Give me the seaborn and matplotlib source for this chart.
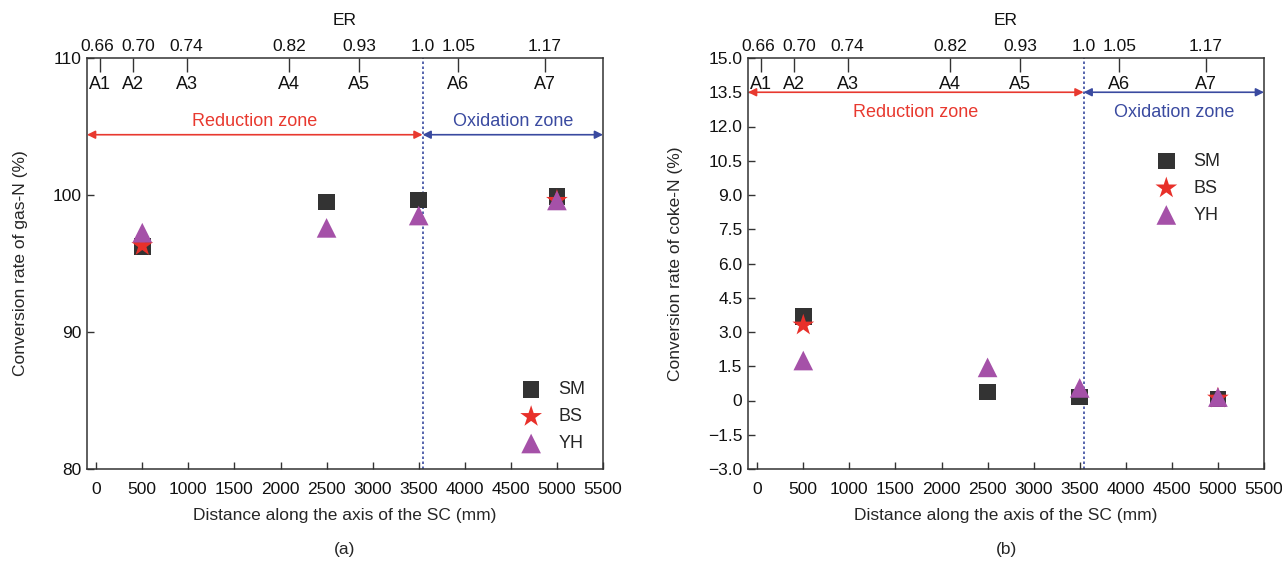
import numpy as np
import matplotlib
matplotlib.use("Agg")
import matplotlib.pyplot as plt
import matplotlib.transforms as mtransforms
import seaborn as sns
from matplotlib.ticker import FuncFormatter

sns.set_theme(style="ticks")
plt.rcParams['font.family'] = ['Liberation Sans', 'DejaVu Sans']

# ---------------- data ----------------
dist_all = [500, 2500, 3500, 5000]
dist_bs = [500, 5000]

gas_sm = [96.25, 99.5, 99.65, 99.9]
gas_bs = [96.3, 99.6]
gas_yh = [97.25, 97.6, 98.5, 99.6]

coke_sm = [3.67, 0.38, 0.16, 0.07]
coke_bs = [3.3, 0.1]
coke_yh = [1.75, 1.45, 0.55, 0.15]

a_pos = [40, 395, 980, 2090, 2855, 3930, 4870]
a_labels = ["A1", "A2", "A3", "A4", "A5", "A6", "A7"]
er_labels = ["0.66", "0.70", "0.74", "0.82", "0.93", "1.05", "1.17"]
er_boundary = 3542
er_boundary_label = "1.0"

x_ticks = list(range(0, 5501, 500))

# ---------------- style ----------------
er_label_shift = [-30, 65, 0, 0, 0, 0, 0]   # small label nudges (layout only)
c_sm = "#333333"
c_bs = "#e8302a"
c_yh = "#a551a8"
c_red = "#e8392f"
c_blue = "#3a4aa0"
c_spine = "#333333"
FS = 12.5

fig = plt.figure(figsize=(12.82, 5.62), dpi=100)
AX_W = 516 / 1282
AX_H = 411 / 562
AX_B = (562 - 469) / 562
axL = fig.add_axes([87 / 1282, AX_B, AX_W, AX_H])
axR = fig.add_axes([748 / 1282, AX_B, AX_W, AX_H])


def draw(ax, sm, bs, yh, ylim, yticks, ylabel, ylab_x, arrow_y, text_y, text_va, leg_kw, panel):
    sns.scatterplot(x=dist_all, y=sm, marker="s", color=c_sm, s=140, edgecolor="none",
                    label="SM", ax=ax, zorder=3)
    sns.scatterplot(x=dist_bs, y=bs, marker="*", color=c_bs, s=270, edgecolor="none",
                    label="BS", ax=ax, zorder=4)
    sns.scatterplot(x=dist_all, y=yh, marker="^", color=c_yh, s=200, edgecolor="none",
                    label="YH", ax=ax, zorder=5)
    ax.set_xlim(-100, 5500)
    ax.set_ylim(*ylim)
    ax.set_xticks(x_ticks)
    ax.set_xticklabels([str(v) for v in x_ticks], fontsize=FS)
    ax.set_yticks(yticks)
    ax.tick_params(axis="both", direction="in", length=5, width=1, labelsize=FS,
                   colors=c_spine, labelcolor="#111111")
    ax.tick_params(axis="x", pad=9)
    ax.tick_params(axis="y", pad=4)
    for sp in ax.spines.values():
        sp.set_visible(True)
        sp.set_linewidth(1.1)
        sp.set_color(c_spine)
    ax.set_xlabel("Distance along the axis of the SC (mm)", fontsize=FS, labelpad=8)
    ax.set_ylabel(ylabel, fontsize=FS)
    ax.yaxis.set_label_coords(ylab_x, 0.5)

    # boundary
    ax.axvline(er_boundary, color=c_blue, ls=(0, (1.5, 1.5)), lw=1.2, zorder=2)

    # zone arrows
    ax.annotate("", xy=(-100, arrow_y), xytext=(er_boundary, arrow_y),
                arrowprops=dict(arrowstyle="<|-|>", color=c_red, lw=1.2,
                                mutation_scale=12, shrinkA=0, shrinkB=0))
    ax.annotate("", xy=(er_boundary, arrow_y), xytext=(5500, arrow_y),
                arrowprops=dict(arrowstyle="<|-|>", color=c_blue, lw=1.2,
                                mutation_scale=12, shrinkA=0, shrinkB=0))
    ax.text((-100 + er_boundary) / 2, text_y, "Reduction zone", color=c_red,
            fontsize=13, ha="center", va=text_va)
    ax.text((er_boundary + 5500) / 2, text_y, "Oxidation zone", color=c_blue,
            fontsize=13, ha="center", va=text_va)

    # top ER axis
    top = ax.twiny()
    top.set_xlim(ax.get_xlim())
    top.set_xticks(a_pos)
    top.set_xticklabels([""] * len(a_pos))
    top.tick_params(axis="x", direction="in", length=10, width=1, colors=c_spine)
    for sp in top.spines.values():
        sp.set_visible(False)
    xt = ax.get_xaxis_transform() + mtransforms.ScaledTranslation(0, 3 / 72, fig.dpi_scale_trans)
    for xp, sh, lab in zip(a_pos, er_label_shift, er_labels):
        ax.text(xp + sh, 1.0, lab, transform=xt, ha="center", va="bottom",
                fontsize=FS, color="#111111")
    ax.text(er_boundary, 1.0, er_boundary_label, transform=xt, ha="center",
            va="bottom", fontsize=FS, color="#111111")
    ax.text(0.5, 1.092, "ER", transform=ax.transAxes, ha="center", va="center",
            fontsize=FS, color="#111111")
    for xp, lab in zip(a_pos, a_labels):
        ax.text(xp, 0.935, lab, transform=ax.get_xaxis_transform(),
                ha="center", va="center", fontsize=13, color="#111111")

    ax.legend(frameon=False, fontsize=13, handletextpad=0.5,
              labelspacing=0.55, borderpad=0.2, **leg_kw)
    ax.text(0.5, -0.197, panel, transform=ax.transAxes, ha="center", va="center",
            fontsize=FS)


draw(axL, gas_sm, gas_bs, gas_yh, (80, 110), [80, 90, 100, 110],
     "Conversion rate of gas-N (%)", -0.115, 104.4, 104.75, "bottom",
     dict(loc="lower right", bbox_to_anchor=(0.99, 0.01)), "(a)")

draw(axR, coke_sm, coke_bs, coke_yh, (-3.0, 15.0), list(np.arange(-3.0, 15.01, 1.5)),
     "Conversion rate of coke-N (%)", -0.126, 13.5, 13.0, "top",
     dict(loc="upper right", bbox_to_anchor=(0.94, 0.80)), "(b)")

axR.yaxis.set_major_formatter(
    FuncFormatter(lambda v, p: "0" if abs(v) < 1e-9 else f"{v:.1f}".replace("-", "\u2212")))

fig.savefig("out.png", dpi=100, facecolor="white")
